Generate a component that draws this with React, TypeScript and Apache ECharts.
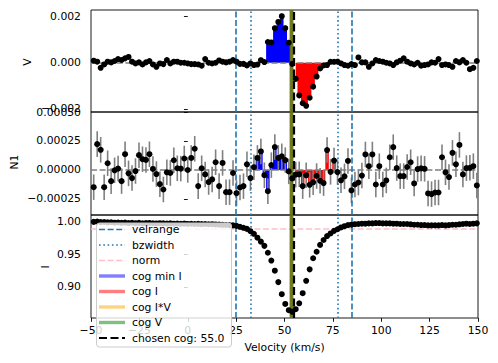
import React, { useEffect, useRef } from "react";
import * as echarts from "echarts";

// Velocity grid (km/s)
const VELOCITY = [
  -48.6, -46.8, -45.0, -43.2, -41.4, -39.6, -37.8, -36.0, -34.2, -32.4,
  -30.6, -28.8, -27.0, -25.2, -23.4, -21.6, -19.8, -18.0, -16.2, -14.4,
  -12.6, -10.8, -9.0, -7.2, -5.4, -3.6, -1.8, 0.0, 1.8, 3.6,
  5.4, 7.2, 9.0, 10.8, 12.6, 14.4, 16.2, 18.0, 19.8, 21.6,
  23.4, 25.2, 27.0, 28.8, 30.6, 32.4, 34.2, 36.0, 37.8, 39.6,
  41.4, 43.2, 45.0, 46.8, 48.6, 50.4, 52.2, 54.0, 55.8, 57.6,
  59.4, 61.2, 63.0, 64.8, 66.6, 68.4, 70.2, 72.0, 73.8, 75.6,
  77.4, 79.2, 81.0, 82.8, 84.6, 86.4, 88.2, 90.0, 91.8, 93.6,
  95.4, 97.2, 99.0, 100.8, 102.6, 104.4, 106.2, 108.0, 109.8, 111.6,
  113.4, 115.2, 117.0, 118.8, 120.6, 122.4, 124.2, 126.0, 127.8, 129.6,
  131.4, 133.2, 135.0, 136.8, 138.6, 140.4, 142.2, 144.0, 145.8, 147.6,
  149.4,
];

// Stokes V
const STOKES_V = [
  8.8e-5, 4.4e-5, -22e-5, -7.4e-5, 4.4e-5, 1.5e-5, 7.4e-5, 16e-5, 11.8e-5, 19e-5,
  25e-5, 4.4e-5, -3e-5, 1.5e-5, -7.4e-5, 1.5e-5, 7.4e-5, -7.4e-5, -17.6e-5, -3e-5,
  -6e-5, 11.8e-5, -3e-5, 4.4e-5, 4.4e-5, 0, 0, -3e-5, -6e-5, -6e-5,
  -7.4e-5, -13e-5, 16e-5, 0, -3e-5, 0, 10e-5, 4.4e-5, 1.5e-5, 4.4e-5,
  11.8e-5, 4.4e-5, -5e-5, -5e-5, -12e-5, -3e-5, -10e-5, -8e-5, 11e-5, 3e-5,
  90e-5, 88e-5, 150e-5, 177e-5, 202e-5, 150e-5, 87e-5, -5e-5, -70e-5, -142e-5,
  -176e-5, -187e-5, -152e-5, -104e-5, -60e-5, -25e-5, -12e-5, -10e-5, 4e-5, 4e-5,
  4.4e-5, -3e-5, -10e-5, -13e-5, -6e-5, -10e-5, 23e-5, 1.5e-5, 1.5e-5, -17.6e-5,
  -3e-5, 11.8e-5, 7.4e-5, 4.4e-5, 0, -3e-5, -10e-5, 1.5e-5, 8.8e-5, 19e-5,
  4.4e-5, -3e-5, -7.4e-5, 0, -13e-5, -10e-5, -7.4e-5, 1.5e-5, 0, 16e-5,
  -10e-5, -7.4e-5, -10e-5, -17.6e-5, 7.4e-5, 1.5e-5, 11.8e-5, 0, -28e-5, -22e-5,
  7.4e-5,
];

// Null profile N1
const NULL_N1 = [
  -14.8e-5, 22.3e-5, 17.4e-5, -14.8e-5, 5.8e-5, -9.6e-5, -0.3e-5, 1.2e-5, -9.6e-5, 13.6e-5,
  -2.9e-5, -7.0e-5, -0.9e-5, 12.8e-5, 9.3e-5, 8.7e-5, 13.6e-5, 0.9e-5, -3.5e-5, -12.2e-5,
  -16.8e-5, -2.0e-5, -2.6e-5, 8.4e-5, 1.5e-5, 1.2e-5, 9.9e-5, 0.0, 10.4e-5, 18.3e-5,
  -13.9e-5, 1.5e-5, -3.8e-5, -10.4e-5, -8.1e-5, 6.7e-5, -13.9e-5, 6.1e-5, -19.1e-5, -19.1e-5,
  -2.6e-5, -20.0e-5, -15.1e-5, -13.9e-5, 4.9e-5, -7.0e-5, 2.4e-5, 10.4e-5, 16.0e-5, -4.5e-5,
  -18.3e-5, 4.2e-5, 19.8e-5, 10.4e-5, 11.8e-5, 8.5e-5, -1.2e-5, -7.2e-5, -4.0e-5, -3.7e-5,
  -13.9e-5, -4.6e-5, -12.8e-5, -10.6e-5, -5.2e-5, -9.3e-5, -11.3e-5, 17.2e-5, -1.6e-5, 8.1e-5,
  -1.8e-5, -8.9e-5, -5.5e-5, 7.8e-5, -17.6e-5, -12.5e-5, -10.8e-5, -4.8e-5, 13.4e-5, 3.3e-5,
  13.4e-5, -12.5e-5, 3.3e-5, -12.5e-5, -9.0e-5, 11.0e-5, 19.7e-5, 1.6e-5, -5.3e-5, -5.3e-5,
  2.6e-5, 6.7e-5, -11.6e-5, 0.8e-5, 1.4e-5, 1.0e-5, -20.2e-5, -20.8e-5, -19.4e-5, -19.4e-5,
  11.0e-5, -2.0e-5, -6.1e-5, 14.8e-5, 4.9e-5, 21.6e-5, -3.8e-5, 1.6e-5, 1.9e-5, 3.3e-5,
  -13.3e-5,
];

// Stokes I
const STOKES_I = [
  0.9998, 1.0002, 0.9994, 0.9996, 0.9990, 0.9992, 0.9985, 0.9988, 0.9983, 0.9986,
  0.9980, 0.9984, 0.9978, 0.9982, 0.9976, 0.9979, 0.9981, 0.9977, 0.9974, 0.9978,
  0.9975, 0.9972, 0.9976, 0.9970, 0.9973, 0.9968, 0.9971, 0.9966, 0.9969, 0.9965,
  0.9967, 0.9963, 0.9965, 0.9961, 0.9962, 0.9958, 0.9956, 0.9953, 0.9950, 0.9947,
  0.9944, 0.9936, 0.9922, 0.9907, 0.9890, 0.9855, 0.9815, 0.9755, 0.9695, 0.9630,
  0.9525, 0.9405, 0.9250, 0.9075, 0.8890, 0.8740, 0.8645, 0.8620, 0.8660, 0.8750,
  0.8905, 0.9095, 0.9270, 0.9440, 0.9540, 0.9645, 0.9720, 0.9780, 0.9820, 0.9860,
  0.9885, 0.9912, 0.9932, 0.9948, 0.9955, 0.9962, 0.9965, 0.9970, 0.9970, 0.9975,
  0.9975, 0.9980, 0.9980, 0.9975, 0.9975, 0.9975, 0.9970, 0.9970, 0.9965, 0.9965,
  0.9965, 0.9960, 0.9954, 0.9954, 0.9949, 0.9949, 0.9944, 0.9944, 0.9944, 0.9944,
  0.9949, 0.9944, 0.9949, 0.9954, 0.9954, 0.9960, 0.9965, 0.9970, 0.9965, 0.9970,
  0.9975,
];

const SIGMA = 1.1e-4;
const VEL_RANGE = [25, 85];
const BZ_WIDTH = [32.5, 77.5];
const NORM = 0.993;
const COG_MIN_I = 53.7;
const COG_I = 53.7;
const COG_IV = 53.7;
const COG_V = 53.7;
const CHOSEN_COG = 55.0;

const X_MIN = -50;
const X_MAX = 150;
const X_INTERVAL = 25;

const V_TICKS = [-0.002, 0, 0.002];
const V_TICK_LABELS = ["\u22120.002", "0.000", "0.002"];
const N1_TICKS = [-0.00025, 0, 0.00025, 0.0005];
const N1_TICK_LABELS = ["\u22120.00025", "0.00000", "0.00025", "0.00050"];
const I_TICKS = [0.9, 0.95, 1.0];
const I_TICK_LABELS = ["0.90", "0.95", "1.00"];

const LEGEND_LABELS = [
  "velrange",
  "bzwidth",
  "norm",
  "cog min I",
  "cog I",
  "cog I*V",
  "cog V",
  "chosen cog: 55.0",
];

const FONT = "DejaVu Sans";
const FS = 10.8;
const BLUE_T = "#1f77b4";

const DASH = [6, 2.6];
const DOT = [1.6, 2.7];
const DASH_BIG = [8, 3.5];

const STYLES = {
  velrange: { color: BLUE_T, width: 1.6, type: DASH, opacity: 1 },
  bzwidth: { color: BLUE_T, width: 1.6, type: DOT, opacity: 1 },
  norm: { color: "#ffc0cb", width: 1.6, type: DASH, opacity: 1 },
  cogMinI: { color: "#0000ff", width: 3.4, type: "solid", opacity: 0.5 },
  cogI: { color: "#ff0000", width: 3.4, type: "solid", opacity: 0.5 },
  cogIV: { color: "#ffa500", width: 3.4, type: "solid", opacity: 0.5 },
  cogV: { color: "#008000", width: 3.4, type: "solid", opacity: 0.5 },
  chosen: { color: "#000000", width: 2.2, type: DASH_BIG, opacity: 1 },
  zero: { color: "#808080", width: 1.6, type: DASH, opacity: 1 },
};

function tickFormatter(ticks: number[], labels: string[]) {
  return (val: number) => {
    const idx = ticks.findIndex((t) => Math.abs(t - val) < 1e-12 + Math.abs(t) * 1e-9);
    return idx >= 0 ? labels[idx] : "";
  };
}

export default function App() {
  const ref = useRef<HTMLDivElement>(null);

  useEffect(() => {
    if (!ref.current) return;
    const chart = echarts.init(ref.current, undefined, { renderer: "svg" });

    const grids = [
      { left: 91, top: 10, width: 387, height: 102 },
      { left: 91, top: 112, width: 387, height: 103 },
      { left: 91, top: 215, width: 387, height: 103 },
    ].map((g) => ({
      ...g,
      show: true,
      borderColor: "#000",
      borderWidth: 0.9,
      backgroundColor: "transparent",
      containLabel: false,
    }));

    const xAxes = [0, 1, 2].map((k) => ({
      type: "value",
      gridIndex: k,
      min: X_MIN,
      max: X_MAX,
      interval: X_INTERVAL,
      show: k === 2,
      axisLine: { show: false },
      splitLine: { show: false },
      axisTick: { show: k === 2, length: 3.8, lineStyle: { color: "#000", width: 0.9 } },
      axisLabel: {
        show: k === 2,
        margin: 7,
        color: "#000",
        fontFamily: FONT,
        fontSize: FS,
        formatter: (v: number) => (v < 0 ? "\u2212" + Math.abs(v) : String(v)),
      },
    }));

    const yDefs = [
      { min: -0.00214, max: 0.00229, ticks: V_TICKS, labels: V_TICK_LABELS },
      { min: -0.000388, max: 0.0005, ticks: N1_TICKS, labels: N1_TICK_LABELS },
      { min: 0.8525, max: 1.0103, ticks: I_TICKS, labels: I_TICK_LABELS },
    ];
    const yAxes = yDefs.map((d, k) => ({
      type: "value",
      gridIndex: k,
      min: d.min,
      max: d.max,
      axisLine: { show: false },
      splitLine: { show: false },
      axisTick: {
        show: true,
        length: 3.8,
        customValues: d.ticks,
        lineStyle: { color: "#000", width: 0.9 },
      },
      axisLabel: {
        show: true,
        customValues: d.ticks,
        margin: 10,
        color: "#000",
        fontFamily: FONT,
        fontSize: FS,
        formatter: tickFormatter(d.ticks, d.labels),
      },
    }));

    const vline = (x: number, s: any) => ({
      xAxis: x,
      lineStyle: { color: s.color, width: s.width, type: s.type, opacity: s.opacity },
    });
    const hline = (y: number, s: any) => ({
      yAxis: y,
      lineStyle: { color: s.color, width: s.width, type: s.type, opacity: s.opacity },
    });

    const series: any[] = [];

    const profiles = [STOKES_V, NULL_N1, STOKES_I];

    [0, 1, 2].forEach((k) => {
      const guideData: any[] = [];
      if (k < 2) guideData.push(hline(0, STYLES.zero));
      if (k === 2) guideData.push(hline(NORM, STYLES.norm));
      guideData.push(vline(VEL_RANGE[0], STYLES.velrange));
      guideData.push(vline(VEL_RANGE[1], STYLES.velrange));
      guideData.push(vline(BZ_WIDTH[0], STYLES.bzwidth));
      guideData.push(vline(BZ_WIDTH[1], STYLES.bzwidth));
      guideData.push(vline(COG_MIN_I, STYLES.cogMinI));
      guideData.push(vline(COG_I, STYLES.cogI));
      guideData.push(vline(COG_IV, STYLES.cogIV));
      guideData.push(vline(COG_V, STYLES.cogV));
      guideData.push(vline(CHOSEN_COG, STYLES.chosen));

      series.push({
        type: "line",
        xAxisIndex: k,
        yAxisIndex: k,
        data: [],
        z: 3,
        silent: true,
        markLine: {
          silent: true,
          symbol: ["none", "none"],
          label: { show: false },
          emphasis: { disabled: true },
          data: guideData,
        },
      });

      const vals = profiles[k];

      if (k < 2) {
        const blue: number[][] = [];
        const red: number[][] = [];
        VELOCITY.forEach((v, i) => {
          if (v >= BZ_WIDTH[0] && v <= BZ_WIDTH[1]) {
            if (v < CHOSEN_COG) blue.push([v, vals[i]]);
            else if (v > CHOSEN_COG) red.push([v, vals[i]]);
          }
        });
        [
          { d: blue, c: "#0000ff" },
          { d: red, c: "#ff0000" },
        ].forEach(({ d, c }) => {
          series.push({
            type: "line",
            xAxisIndex: k,
            yAxisIndex: k,
            data: d,
            step: "middle",
            showSymbol: false,
            symbol: "none",
            silent: true,
            z: 1,
            lineStyle: { width: 0, color: c },
            areaStyle: { color: c, opacity: 1, origin: 0 },
          });
        });

        series.push({
          type: "custom",
          xAxisIndex: k,
          yAxisIndex: k,
          silent: true,
          z: 4,
          data: VELOCITY.map((v, i) => [v, vals[i] - SIGMA, vals[i] + SIGMA]),
          encode: { x: 0, y: [1, 2] },
          renderItem: (_params: any, api: any) => {
            const p1 = api.coord([api.value(0), api.value(1)]);
            const p2 = api.coord([api.value(0), api.value(2)]);
            return {
              type: "line",
              shape: { x1: p1[0], y1: p1[1], x2: p2[0], y2: p2[1] },
              style: { stroke: "#808080", lineWidth: 1.6 },
            };
          },
        });
      }

      series.push({
        type: "scatter",
        xAxisIndex: k,
        yAxisIndex: k,
        data: VELOCITY.map((v, i) => [v, vals[i]]),
        symbol: "circle",
        symbolSize: 6,
        silent: true,
        z: 5,
        itemStyle: { color: "#000", borderWidth: 0, opacity: 1 },
      });
    });

    // legend drawn as graphic (matplotlib style), on top of everything
    const legendKeys = ["velrange", "bzwidth", "norm", "cogMinI", "cogI", "cogIV", "cogV", "chosen"];
    const rowY0 = 229.5;
    const rowDY = 15.5;
    const LZ = 200;
    const legendEls: any[] = [
      {
        type: "rect",
        z: LZ,
        shape: { x: 96.5, y: 223, width: 135, height: 124, r: 3 },
        style: { fill: "rgba(255,255,255,0.8)", stroke: "#cccccc", lineWidth: 1 },
      },
    ];
    legendKeys.forEach((key, i) => {
      const s: any = (STYLES as any)[key];
      const y = rowY0 + i * rowDY;
      legendEls.push({
        type: "line",
        z: LZ + 1,
        shape: { x1: 99, y1: y, x2: 125, y2: y },
        style: {
          stroke: s.color,
          lineWidth: s.width,
          lineDash: Array.isArray(s.type) ? s.type : null,
          opacity: s.opacity,
        },
      });
      legendEls.push({
        type: "text",
        z: LZ + 1,
        x: 132,
        y: y,
        style: {
          text: LEGEND_LABELS[i],
          fill: "#000",
          fontFamily: FONT,
          fontSize: FS,
          align: "left",
          verticalAlign: "middle",
        },
      });
    });

    const axisTitle = (text: string, x: number, y: number, rot: number) => ({
      type: "text",
      z: LZ,
      x,
      y,
      rotation: rot,
      style: {
        text,
        fill: "#000",
        fontFamily: FONT,
        fontSize: FS,
        align: "center",
        verticalAlign: "middle",
      },
    });

    chart.setOption({
      animation: false,
      backgroundColor: "#ffffff",
      grid: grids,
      xAxis: xAxes,
      yAxis: yAxes,
      series,
      graphic: [
        ...legendEls,
        axisTitle("V", 27, 62, Math.PI / 2),
        axisTitle("N1", 14, 162, Math.PI / 2),
        axisTitle("I", 45, 267, Math.PI / 2),
        axisTitle("Velocity (km/s)", 284.5, 347, 0),
      ],
    });

    return () => chart.dispose();
  }, []);

  return (
    <div
      ref={ref}
      style={{ position: "fixed", left: 0, top: 0, width: 498, height: 363, background: "#fff" }}
    />
  );
}
